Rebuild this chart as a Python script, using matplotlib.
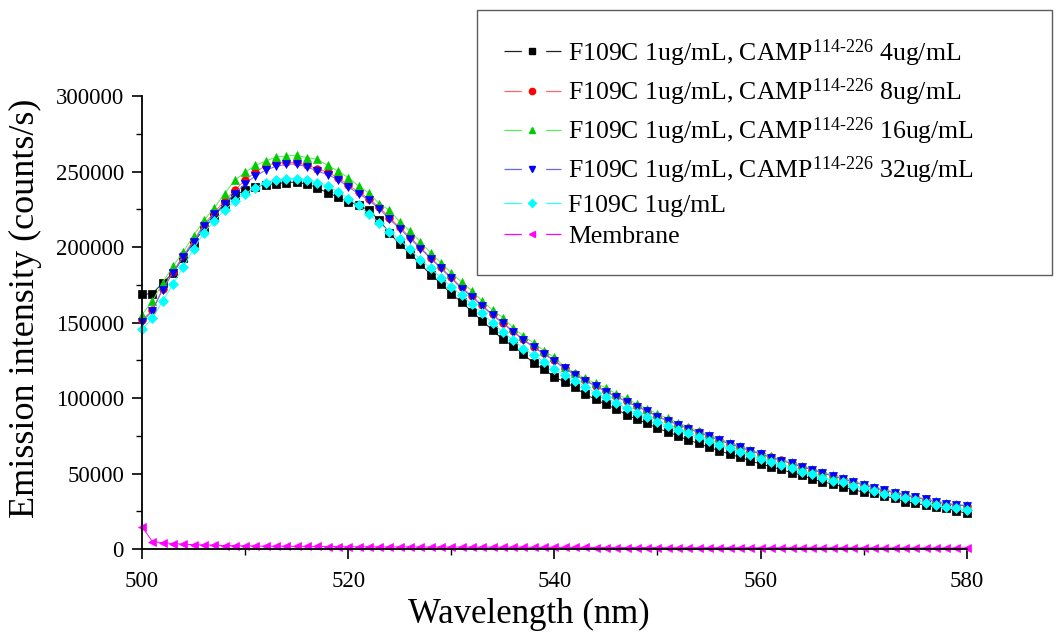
import matplotlib

matplotlib.use("Agg")
import matplotlib.pyplot as plt
import numpy as np
from matplotlib.lines import Line2D
from matplotlib.ticker import AutoMinorLocator, FuncFormatter, MultipleLocator

# emission spectra, 500-580 nm in 1 nm steps, values in thousands of counts/s
wavelength = list(range(500, 581))

camp_4 = [
    168.6, 169.2, 176.2, 183.0, 193.0, 203.0, 212.0, 220.5, 228.5, 234.5,
    237.6, 239.8, 241.3, 242.0, 242.7, 243.1, 241.6, 239.4, 235.8, 233.2,
    229.9, 227.7, 224.4, 217.7, 209.5, 201.7, 195.7, 188.6, 181.8, 175.8,
    168.8, 163.7, 157.1, 151.1, 144.9, 138.8, 134.3, 129.1, 122.9, 118.9,
    114.0, 110.7, 107.0, 102.4, 99.1, 95.8, 92.5, 89.0, 85.8, 83.2,
    79.9, 77.6, 74.8, 72.1, 69.9, 67.3, 65.1, 62.9, 60.7, 58.4,
    56.3, 54.5, 52.7, 50.5, 49.0, 46.3, 44.5, 43.0, 41.2, 39.0,
    37.9, 36.8, 35.1, 33.6, 31.3, 30.2, 29.1, 28.0, 26.9, 25.3,
    23.6,
]
camp_8 = [
    151.5, 158.2, 172.5, 183.5, 194.5, 204.5, 215.0, 223.0, 230.5, 237.5,
    244.5, 249.5, 254.0, 255.7, 256.0, 256.0, 254.1, 252.0, 249.5, 246.0,
    241.0, 236.5, 232.0, 226.5, 219.5, 213.0, 206.5, 199.8, 193.0, 186.5,
    180.0, 173.3, 167.6, 161.4, 155.5, 150.0, 144.4, 138.9, 134.0, 129.6,
    124.9, 120.1, 115.7, 111.8, 108.3, 104.5, 101.1, 97.8, 94.6, 91.6,
    87.9, 85.2, 82.4, 80.0, 77.2, 74.9, 72.2, 69.8, 67.6, 65.2,
    63.0, 60.8, 58.8, 56.8, 54.6, 52.6, 50.5, 48.3, 46.5, 44.4,
    42.5, 40.7, 38.9, 37.4, 35.9, 34.3, 32.9, 31.4, 30.1, 29.3,
    28.6,
]
camp_16 = [
    155.3, 164.0, 176.5, 187.3, 196.8, 207.6, 217.7, 225.9, 235.4, 244.2,
    249.5, 254.1, 257.0, 259.6, 260.3, 260.8, 259.2, 258.1, 254.1, 250.4,
    246.0, 240.5, 235.8, 228.8, 224.4, 216.7, 210.7, 203.4, 196.1, 189.5,
    182.9, 176.9, 170.9, 164.3, 158.2, 153.3, 146.5, 141.0, 136.5, 131.2,
    126.9, 120.7, 116.5, 113.0, 109.7, 106.8, 102.6, 99.7, 96.0, 92.8,
    89.5, 86.5, 83.6, 81.0, 78.2, 75.6, 73.0, 70.5, 68.2, 65.8,
    63.6, 61.3, 59.2, 57.4, 55.2, 53.1, 51.0, 48.9, 47.0, 44.9,
    43.0, 41.2, 39.4, 37.8, 36.3, 34.7, 33.2, 31.7, 30.4, 29.5,
    28.9,
]
camp_32 = [
    150.4, 157.7, 171.8, 182.9, 193.5, 203.4, 213.8, 221.7, 228.8, 235.4,
    242.0, 247.1, 250.8, 253.5, 254.8, 255.0, 253.0, 250.4, 248.0, 244.7,
    239.8, 235.4, 231.0, 225.5, 218.4, 212.2, 205.6, 199.0, 192.4, 185.8,
    179.2, 172.5, 167.0, 160.8, 154.9, 149.4, 143.8, 138.3, 133.5, 129.1,
    124.4, 119.6, 115.2, 111.4, 107.9, 104.1, 100.8, 97.5, 94.3, 91.3,
    87.6, 84.9, 82.2, 79.8, 77.0, 74.7, 72.0, 69.6, 67.4, 65.0,
    62.9, 60.6, 58.6, 56.7, 54.5, 52.5, 50.4, 48.2, 46.4, 44.3,
    42.4, 40.6, 38.8, 37.3, 35.8, 34.2, 32.8, 31.3, 30.0, 29.2,
    28.5,
]
f109c_only = [
    145.6, 152.7, 164.1, 175.4, 186.8, 198.8, 209.6, 217.3, 224.4, 230.5,
    235.4, 239.4, 242.4, 244.2, 245.3, 245.3, 244.7, 242.4, 240.5, 236.6,
    232.1, 227.7, 221.7, 216.0, 210.0, 205.0, 198.4, 191.7, 185.8, 179.6,
    173.6, 168.1, 162.1, 156.0, 149.8, 143.8, 138.3, 132.8, 128.4, 124.0,
    119.1, 115.2, 111.4, 107.5, 103.5, 100.4, 96.8, 93.1, 90.2, 87.6,
    84.3, 81.4, 78.8, 76.6, 73.9, 71.7, 68.8, 66.6, 64.4, 62.2,
    59.6, 57.8, 55.6, 53.4, 51.2, 49.4, 47.2, 45.2, 44.1, 41.9,
    40.2, 38.4, 36.4, 35.1, 33.6, 32.4, 30.6, 29.1, 27.6, 26.9,
    25.8,
]
membrane = [
    14.8, 4.9, 4.2, 3.6, 3.2, 2.9, 2.7, 2.5, 2.3, 2.2,
    2.1, 2.0, 1.9, 1.9, 1.8, 1.8, 1.7, 1.7, 1.6, 1.6,
    1.5, 1.5, 1.5, 1.4, 1.4, 1.4, 1.4, 1.3, 1.3, 1.3,
    1.3, 1.3, 1.2, 1.2, 1.2, 1.2, 1.2, 1.2, 1.1, 1.1,
    1.1, 1.1, 1.1, 1.1, 1.0, 1.0, 1.0, 1.0, 1.0, 1.0,
    1.0, 0.9, 0.9, 0.9, 0.9, 0.9, 0.9, 0.9, 0.9, 0.9,
    0.8, 0.8, 0.8, 0.8, 0.8, 0.8, 0.8, 0.8, 0.8, 0.8,
    0.8, 0.8, 0.7, 0.7, 0.7, 0.7, 0.7, 0.7, 0.7, 0.7,
    0.7,
]

SUP = r"$^{\mathrm{114\text{-}226}}$"
labels = [
    f"F109C 1ug/mL, CAMP{SUP} 4ug/mL",
    f"F109C 1ug/mL, CAMP{SUP} 8ug/mL",
    f"F109C 1ug/mL, CAMP{SUP} 16ug/mL",
    f"F109C 1ug/mL, CAMP{SUP} 32ug/mL",
    "F109C 1ug/mL",
    "Membrane",
]
series = [camp_4, camp_8, camp_16, camp_32, f109c_only, membrane]
colors = ["#000000", "#ff0000", "#00cc00", "#0000ff", "#00ffff", "#ff00ff"]
line_colors = ["#222222", "#ff6666", "#55ee55", "#6666ff", "#33ffff", "#ff00ff"]
markers = ["s", "o", "^", "v", "D", "<"]
sizes = [5.5, 5.5, 6.0, 6.0, 5.0, 6.0]

plt.rcParams["font.family"] = ["Liberation Serif", "DejaVu Serif"]
plt.rcParams["mathtext.fontset"] = "custom"
plt.rcParams["mathtext.rm"] = "Liberation Serif"
plt.rcParams["mathtext.it"] = "Liberation Serif:italic"
plt.rcParams["lines.scale_dashes"] = False

fig = plt.figure(figsize=(10.56, 6.32), dpi=100)
ax = fig.add_axes([0.1345, 0.1313, 0.781, 0.7167])

x = np.array(wavelength)
for vals, col, lcol, mk, ms in zip(series, colors, line_colors, markers, sizes):
    ax.plot(
        x, np.array(vals) * 1000, color=lcol, lw=0.7,
        marker=mk, ms=ms, mfc=col, mec=col, mew=0.5, clip_on=False,
    )

ax.set_xlim(500, 580)
ax.set_ylim(0, 300000)
ax.xaxis.set_major_locator(MultipleLocator(20))
ax.xaxis.set_minor_locator(AutoMinorLocator(2))
ax.yaxis.set_major_locator(MultipleLocator(50000))
ax.yaxis.set_minor_locator(AutoMinorLocator(2))
ax.yaxis.set_major_formatter(FuncFormatter(lambda v, _: f"{v:.0f}"))

for side in ("top", "right"):
    ax.spines[side].set_visible(False)
for side in ("left", "bottom"):
    ax.spines[side].set_linewidth(1.3)

ax.tick_params(which="major", direction="out", length=7, width=1.2,
               labelsize=16.5, pad=6)
ax.tick_params(which="minor", direction="out", length=4.5, width=1.0)
ax.tick_params(axis="x", which="major", pad=9)

ax.set_xlabel("Wavelength (nm)", fontsize=25)
ax.set_ylabel("Emission intensity (counts/s)", fontsize=26)
ax.xaxis.set_label_coords(0.469, -0.108)
ax.yaxis.set_label_coords(-0.121, 0.532)

handles = [
    Line2D([], [], color=lcol, lw=0.9, ls=(0, (12.5, 17.5, 12.5, 100)),
           marker=mk, ms=4.5, mfc=col, mec=col)
    for col, lcol, mk in zip(colors, line_colors, markers)
]
leg = fig.legend(
    handles, labels, loc="upper left",
    bbox_to_anchor=(0.4517, 0.984, 0.5445, 0.0), mode="expand",
    fontsize=18.5, frameon=True, fancybox=False, edgecolor="#333333",
    handlelength=2.2, handletextpad=0.3, labelspacing=0.3,
    borderpad=1.05, borderaxespad=0.0,
)
leg.get_frame().set_linewidth(1.0)

fig.savefig("out.png", dpi=100)
